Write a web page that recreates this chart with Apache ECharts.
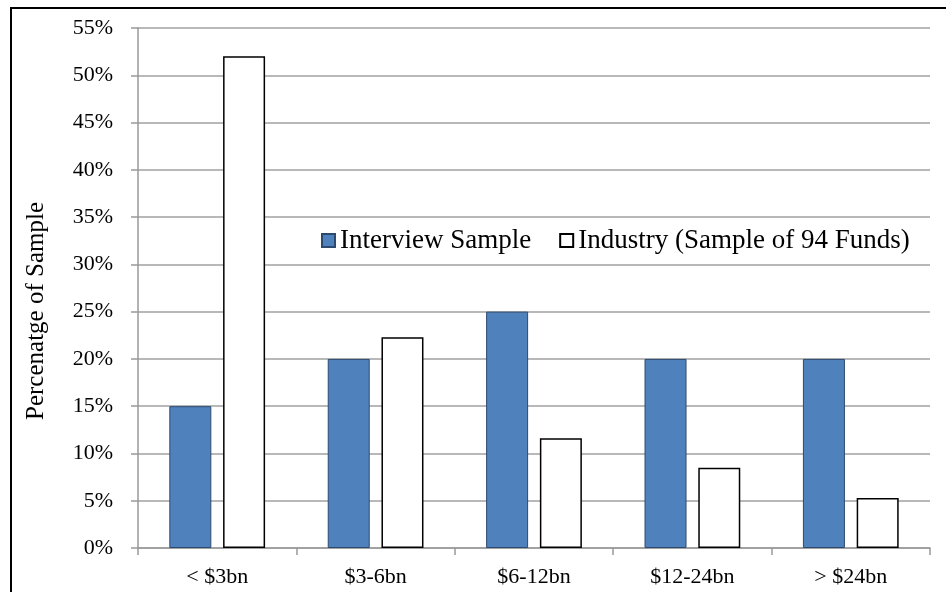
<!DOCTYPE html>
<html>
<head>
<meta charset="utf-8">
<script src="https://cdn.jsdelivr.net/npm/echarts@6/dist/echarts.min.js"></script>
<style>
  html, body { margin: 0; padding: 0; background: #fff; }
  #chart { width: 946px; height: 592px; }
</style>
</head>
<body>
<div id="chart"></div>
<script>
// data
var categories = ['< $3bn', '$3-6bn', '$6-12bn', '$12-24bn', '> $24bn'];
var interviewSample = [15, 20, 25, 20, 20];
var industrySample = [52, 22.3, 11.6, 8.5, 5.3];
var seriesNames = ['Interview Sample', 'Industry (Sample of 94 Funds)'];
var yTitle = 'Percenatge of Sample';

var serif = '"Liberation Serif", "DejaVu Serif", serif';

var myChart = echarts.init(document.getElementById('chart'));
var option = {
  backgroundColor: '#ffffff',
  animation: false,
  graphic: [
    {
      type: 'rect',
      shape: { x: 11, y: 8, width: 960, height: 600 },
      style: { fill: 'none', stroke: '#000', lineWidth: 2 },
      z: 0
    },
    {
      // y axis title, sits a bit below the plot centre like the original
      type: 'text',
      x: 36,
      y: 311,
      rotation: Math.PI / 2,
      style: {
        text: yTitle,
        fontFamily: serif,
        fontSize: 25,
        fill: '#000',
        align: 'center',
        verticalAlign: 'middle'
      }
    }
  ],
  grid: {
    left: 138,
    right: 16,
    top: 28,
    bottom: 44
  },
  legend: {
    data: seriesNames,
    left: 316,
    top: 222,
    itemWidth: 13,
    itemHeight: 13,
    itemGap: 28,
    icon: 'rect',
    textStyle: { fontFamily: serif, fontSize: 27, color: '#000' }
  },
  xAxis: {
    type: 'category',
    data: categories,
    axisLine: { lineStyle: { color: '#999', width: 1.5 } },
    axisTick: { show: true, length: 7, lineStyle: { color: '#999', width: 1.5 } },
    axisLabel: { fontFamily: serif, fontSize: 22, color: '#000', margin: 18 }
  },
  yAxis: {
    type: 'value',
    min: 0,
    max: 55,
    interval: 5,
    axisLine: { show: true, lineStyle: { color: '#999', width: 1.5 } },
    axisTick: { show: true, length: 7, lineStyle: { color: '#999', width: 1.5 } },
    splitLine: { lineStyle: { color: '#a0a0a0', width: 1.5 } },
    axisLabel: {
      fontFamily: serif, fontSize: 22, color: '#000', margin: 25,
      formatter: '{value}%'
    }
  },
  series: [
    {
      name: seriesNames[0],
      type: 'bar',
      data: interviewSample,
      barWidth: 42,
      barGap: '28%',
      itemStyle: { color: '#4f81bd', borderColor: '#2c4a70', borderWidth: 1 }
    },
    {
      name: seriesNames[1],
      type: 'bar',
      data: industrySample,
      barWidth: 42,
      itemStyle: { color: '#ffffff', borderColor: '#000', borderWidth: 1.5 }
    }
  ]
};
myChart.setOption(option);
</script>
</body>
</html>
